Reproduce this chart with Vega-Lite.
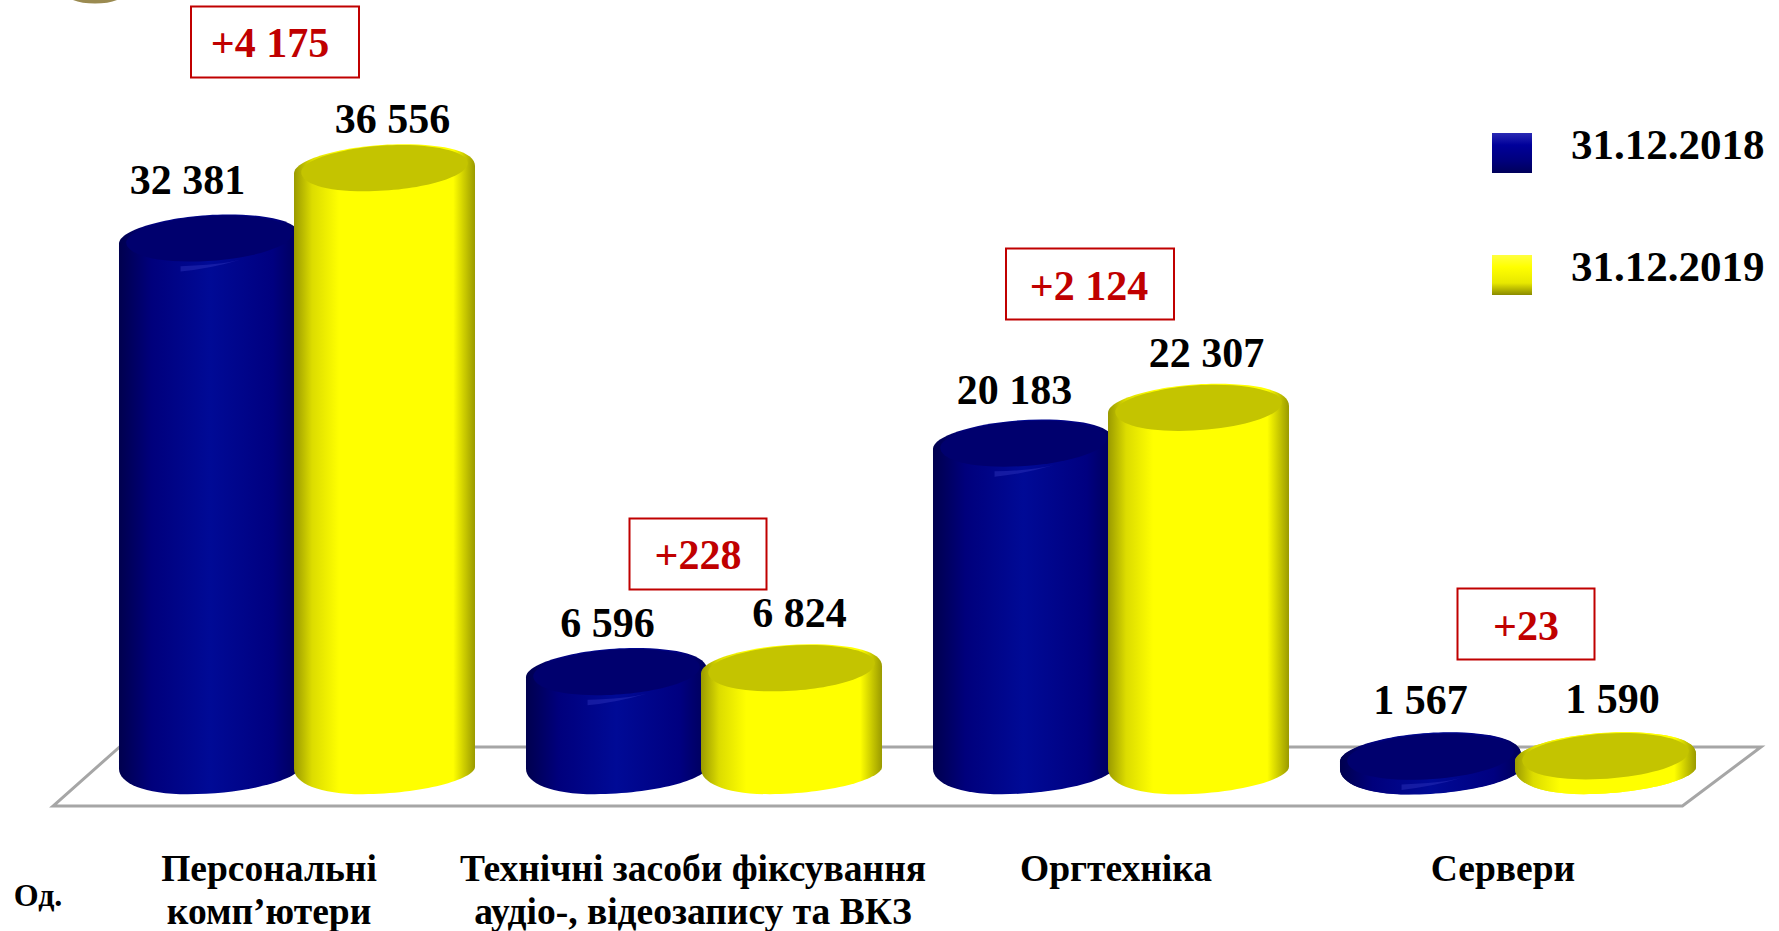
{
"$schema":"https://vega.github.io/schema/vega-lite/v6.json",
"width":1779,"height":931,"padding":0,"autosize":{"type":"none"},
"background":"white",
"config":{"view":{"stroke":null},"text":{"font":"Liberation Serif","fontWeight":"bold"}},
"datasets":{
"bars":[
{"category":"Персональні комп’ютери","series":"31.12.2018","value":32381,"label":"32 381"},
{"category":"Персональні комп’ютери","series":"31.12.2019","value":36556,"label":"36 556"},
{"category":"Технічні засоби фіксування аудіо-, відеозапису та ВКЗ","series":"31.12.2018","value":6596,"label":"6 596"},
{"category":"Технічні засоби фіксування аудіо-, відеозапису та ВКЗ","series":"31.12.2019","value":6824,"label":"6 824"},
{"category":"Оргтехніка","series":"31.12.2018","value":20183,"label":"20 183"},
{"category":"Оргтехніка","series":"31.12.2019","value":22307,"label":"22 307"},
{"category":"Сервери","series":"31.12.2018","value":1567,"label":"1 567"},
{"category":"Сервери","series":"31.12.2019","value":1590,"label":"1 590"}],
"cats":[
{"category":"Персональні комп’ютери","lines":"Персональні\nкомп’ютери","delta":"+4 175"},
{"category":"Технічні засоби фіксування аудіо-, відеозапису та ВКЗ","lines":"Технічні засоби фіксування\nаудіо-, відеозапису та ВКЗ","delta":"+228"},
{"category":"Оргтехніка","lines":"Оргтехніка","delta":"+2 124"},
{"category":"Сервери","lines":"Сервери","delta":"+23"}],
"legend":[{"category":"Сервери","series":"31.12.2018"},{"category":"Сервери","series":"31.12.2019"}]
},
"encoding":{
"x":{"field":"category","type":"nominal","axis":null,"scale":{"domain":["Персональні комп’ютери","Технічні засоби фіксування аудіо-, відеозапису та ВКЗ","Оргтехніка","Сервери"],"range":[93.5,1721.5],"paddingInner":0.14,"paddingOuter":0.07}}
},
"layer":[
{"data":{"name":"cats"},"transform":[{"filter":"datum.category==='Технічні засоби фіксування аудіо-, відеозапису та ВКЗ'"}],
 "mark":{"type":"point","xOffset":203,"filled":false,"stroke":"#a6a6a6","strokeWidth":3,"opacity":1,"size":11669056,"shape":"M-0.5,0.0173L-0.461,-0.0173L0.5,-0.0173L0.454,0.0173Z"},
 "encoding":{"y":{"datum":803,"type":"quantitative","axis":null,"scale":{"domain":[-8383,46968],"range":[931,0],"nice":false,"zero":false}}}},
{"data":{"name":"cats"},"transform":[{"filter":"datum.category==='Персональні комп’ютери'"}],
 "mark":{"type":"point","xOffset":-202,"yOffset":-9,"filled":true,"fill":"#9a8a50","opacity":1,"size":15876,"shape":"M-0.5,0A0.5,0.2,0,1,1,0.5,0A0.5,0.2,0,1,1,-0.5,0Z"},
 "encoding":{"y":{"datum":46968,"type":"quantitative"}}},

{"data":{"name":"bars"},"transform":[{"filter":"datum.series==='31.12.2018'"}],
 "encoding":{"xOffset":{"field":"series","type":"nominal","scale":{"domain":["31.12.2018","31.12.2019"],"paddingInner":0,"paddingOuter":0}}},
 "layer":[
 {"mark":{"type":"point","filled":true,"opacity":1,"size":131044,"shape":"M-0.5,0.03L-0.5,-0.01C-0.5,-0.09,-0.2,-0.171,0.1,-0.171C0.34,-0.171,0.5,-0.13,0.5,-0.05L0.5,0.02C0.5,0.09,0.2,0.171,-0.12,0.171C-0.36,0.171,-0.5,0.11,-0.5,0.03Z","fill":{"gradient":"linear","x1":0,"x2":1,"y1":0,"y2":0,"stops":[{"offset":0,"color":"#00004e"},{"offset":0.18,"color":"#00007c"},{"offset":0.5,"color":"#000a96"},{"offset":0.85,"color":"#000080"},{"offset":1,"color":"#00005a"}]}},
  "encoding":{"y":{"datum":1590,"type":"quantitative"}}},
 {"mark":{"type":"bar","width":181,"fill":{"gradient":"linear","x1":0,"x2":1,"y1":0,"y2":0,"stops":[{"offset":0,"color":"#00004e"},{"offset":0.18,"color":"#00007c"},{"offset":0.5,"color":"#000a96"},{"offset":0.85,"color":"#000080"},{"offset":1,"color":"#00005a"}]}},
  "encoding":{"y":{"field":"value","type":"quantitative","stack":null},"y2":{"datum":1590}}},
 {"mark":{"type":"point","filled":true,"opacity":1,"size":131044,"shape":"M-0.5,0.03L-0.5,-0.01C-0.5,-0.09,-0.2,-0.171,0.1,-0.171C0.34,-0.171,0.5,-0.13,0.5,-0.05L0.5,0.02C0.5,0.09,0.2,0.171,-0.12,0.171C-0.36,0.171,-0.5,0.11,-0.5,0.03Z","fill":{"gradient":"linear","x1":0,"x2":1,"y1":0,"y2":0,"stops":[{"offset":0,"color":"#00004e"},{"offset":0.18,"color":"#00007c"},{"offset":0.5,"color":"#000a96"},{"offset":0.85,"color":"#000080"},{"offset":1,"color":"#00005a"}]}},
  "encoding":{"y":{"field":"value","type":"quantitative"}}},
 {"mark":{"type":"point","filled":true,"opacity":1,"size":110900,"yOffset":-7,"shape":"M-0.5,0.024C-0.5,-0.056,-0.2,-0.139,0.1,-0.139C0.34,-0.139,0.5,-0.09,0.5,-0.032C0.5,0.057,0.2,0.139,-0.12,0.139C-0.36,0.139,-0.5,0.09,-0.5,0.024Z","fill":"#00006e"},
  "encoding":{"y":{"field":"value","type":"quantitative"}}},
 {"mark":{"type":"point","filled":true,"opacity":0.5,"size":131044,"shape":"M-0.16,0.145Q0,0.13,0.17,0.08Q0.05,0.11,-0.16,0.115Z","fill":"#2a30b8"},
  "encoding":{"y":{"field":"value","type":"quantitative"}}}
 ]},

{"data":{"name":"bars"},"transform":[{"filter":"datum.series==='31.12.2019'"}],
 "encoding":{"xOffset":{"field":"series","type":"nominal","scale":{"domain":["31.12.2018","31.12.2019"],"paddingInner":0,"paddingOuter":0}}},
 "layer":[
 {"mark":{"type":"point","filled":true,"opacity":1,"size":131044,"shape":"M-0.5,0.03L-0.5,-0.01C-0.5,-0.09,-0.2,-0.171,0.1,-0.171C0.34,-0.171,0.5,-0.13,0.5,-0.05L0.5,0.02C0.5,0.09,0.2,0.171,-0.12,0.171C-0.36,0.171,-0.5,0.11,-0.5,0.03Z","fill":{"gradient":"linear","x1":0,"x2":1,"y1":0,"y2":0,"stops":[{"offset":0,"color":"#9a9a00"},{"offset":0.1,"color":"#dcdc00"},{"offset":0.25,"color":"#ffff00"},{"offset":0.88,"color":"#ffff00"},{"offset":1,"color":"#9a9a00"}]}},
  "encoding":{"y":{"datum":1590,"type":"quantitative"}}},
 {"mark":{"type":"bar","width":181,"fill":{"gradient":"linear","x1":0,"x2":1,"y1":0,"y2":0,"stops":[{"offset":0,"color":"#9a9a00"},{"offset":0.1,"color":"#dcdc00"},{"offset":0.25,"color":"#ffff00"},{"offset":0.88,"color":"#ffff00"},{"offset":1,"color":"#9a9a00"}]}},
  "encoding":{"y":{"field":"value","type":"quantitative","stack":null},"y2":{"datum":1590}}},
 {"mark":{"type":"point","filled":true,"opacity":1,"size":131044,"shape":"M-0.5,0.03L-0.5,-0.01C-0.5,-0.09,-0.2,-0.171,0.1,-0.171C0.34,-0.171,0.5,-0.13,0.5,-0.05L0.5,0.02C0.5,0.09,0.2,0.171,-0.12,0.171C-0.36,0.171,-0.5,0.11,-0.5,0.03Z","fill":{"gradient":"linear","x1":0,"x2":1,"y1":0,"y2":0,"stops":[{"offset":0,"color":"#9a9a00"},{"offset":0.1,"color":"#dcdc00"},{"offset":0.25,"color":"#ffff00"},{"offset":0.88,"color":"#ffff00"},{"offset":1,"color":"#9a9a00"}]}},
  "encoding":{"y":{"field":"value","type":"quantitative"}}},
 {"mark":{"type":"point","filled":true,"opacity":1,"size":110900,"yOffset":-7,"shape":"M-0.5,0.024C-0.5,-0.056,-0.2,-0.139,0.1,-0.139C0.34,-0.139,0.5,-0.09,0.5,-0.032C0.5,0.057,0.2,0.139,-0.12,0.139C-0.36,0.139,-0.5,0.09,-0.5,0.024Z","fill":"#c4c400"},
  "encoding":{"y":{"field":"value","type":"quantitative"}}}
 ]},

{"data":{"name":"bars"},"transform":[{"filter":"datum.value===6596"}],
 "mark":{"type":"text","fontSize":42,"dx":-9,"dy":-55,"color":"black"},
 "encoding":{"xOffset":{"field":"series","type":"nominal"},"y":{"field":"value","type":"quantitative"},"text":{"field":"label"}}},
{"data":{"name":"bars"},"transform":[{"filter":"datum.value===20183"}],
 "mark":{"type":"text","fontSize":42,"dx":-9,"dy":-60,"color":"black"},
 "encoding":{"xOffset":{"field":"series","type":"nominal"},"y":{"field":"value","type":"quantitative"},"text":{"field":"label"}}},
{"data":{"name":"bars"},"transform":[{"filter":"datum.value===1567"}],
 "mark":{"type":"text","fontSize":42,"dx":-10,"dy":-63,"color":"black"},
 "encoding":{"xOffset":{"field":"series","type":"nominal"},"y":{"field":"value","type":"quantitative"},"text":{"field":"label"}}},
{"data":{"name":"bars"},"transform":[{"filter":"datum.value===32381"}],
 "mark":{"type":"text","fontSize":42,"dx":-22,"dy":-64,"color":"black"},
 "encoding":{"xOffset":{"field":"series","type":"nominal"},"y":{"field":"value","type":"quantitative"},"text":{"field":"label"}}},
{"data":{"name":"bars"},"transform":[{"filter":"datum.value===36556"}],
 "mark":{"type":"text","fontSize":42,"dx":8,"dy":-55,"color":"black"},
 "encoding":{"xOffset":{"field":"series","type":"nominal"},"y":{"field":"value","type":"quantitative"},"text":{"field":"label"}}},
{"data":{"name":"bars"},"transform":[{"filter":"datum.value===6824 || datum.value===22307"}],
 "mark":{"type":"text","fontSize":42,"dx":8,"dy":-61,"color":"black"},
 "encoding":{"xOffset":{"field":"series","type":"nominal"},"y":{"field":"value","type":"quantitative"},"text":{"field":"label"}}},
{"data":{"name":"bars"},"transform":[{"filter":"datum.value===1590"}],
 "mark":{"type":"text","fontSize":42,"dx":7,"dy":-63,"color":"black"},
 "encoding":{"xOffset":{"field":"series","type":"nominal"},"y":{"field":"value","type":"quantitative"},"text":{"field":"label"}}},

{"data":{"name":"cats"},"transform":[{"filter":"datum.delta==='+4 175'"}],"layer":[
 {"mark":{"type":"point","xOffset":-22,"filled":false,"stroke":"#c00000","strokeWidth":2,"opacity":1,"size":112896,"shape":"M-0.5,-0.211H0.5V0.211H-0.5Z"},"encoding":{"y":{"datum":44470,"type":"quantitative"}}},
 {"mark":{"type":"text","fontSize":42,"dx":-27,"dy":2,"color":"#c00000"},"encoding":{"y":{"datum":44470,"type":"quantitative"},"text":{"field":"delta"}}}]},
{"data":{"name":"cats"},"transform":[{"filter":"datum.delta==='+228'"}],"layer":[
 {"mark":{"type":"point","xOffset":-6,"filled":false,"stroke":"#c00000","strokeWidth":2,"opacity":1,"size":75076,"shape":"M-0.5,-0.259H0.5V0.259H-0.5Z"},"encoding":{"y":{"datum":14031,"type":"quantitative"}}},
 {"mark":{"type":"text","fontSize":42,"dx":-6,"dy":2,"color":"#c00000"},"encoding":{"y":{"datum":14031,"type":"quantitative"},"text":{"field":"delta"}}}]},
{"data":{"name":"cats"},"transform":[{"filter":"datum.delta==='+2 124'"}],"layer":[
 {"mark":{"type":"point","xOffset":-21,"filled":false,"stroke":"#c00000","strokeWidth":2,"opacity":1,"size":112896,"shape":"M-0.5,-0.211H0.5V0.211H-0.5Z"},"encoding":{"y":{"datum":30083,"type":"quantitative"}}},
 {"mark":{"type":"text","fontSize":42,"dx":-22,"dy":3,"color":"#c00000"},"encoding":{"y":{"datum":30083,"type":"quantitative"},"text":{"field":"delta"}}}]},
{"data":{"name":"cats"},"transform":[{"filter":"datum.delta==='+23'"}],"layer":[
 {"mark":{"type":"point","xOffset":8,"filled":false,"stroke":"#c00000","strokeWidth":2,"opacity":1,"size":75076,"shape":"M-0.5,-0.259H0.5V0.259H-0.5Z"},"encoding":{"y":{"datum":9869,"type":"quantitative"}}},
 {"mark":{"type":"text","fontSize":42,"dx":8,"dy":3,"color":"#c00000"},"encoding":{"y":{"datum":9869,"type":"quantitative"},"text":{"field":"delta"}}}]},

{"data":{"name":"cats"},"transform":[{"filter":"datum.delta==='+4 175'"},{"calculate":"split(datum.lines,'\\n')","as":"t"}],
 "mark":{"type":"text","fontSize":37.5,"dx":-28,"baseline":"alphabetic","lineHeight":43,"color":"black"},
 "encoding":{"y":{"datum":-5400,"type":"quantitative"},"text":{"field":"t"}}},
{"data":{"name":"cats"},"transform":[{"filter":"datum.delta==='+228'"},{"calculate":"split(datum.lines,'\\n')","as":"t"}],
 "mark":{"type":"text","fontSize":37.5,"dx":-11,"baseline":"alphabetic","lineHeight":43,"color":"black"},
 "encoding":{"y":{"datum":-5400,"type":"quantitative"},"text":{"field":"t"}}},
{"data":{"name":"cats"},"transform":[{"filter":"datum.delta==='+2 124'"}],
 "mark":{"type":"text","fontSize":37.5,"dx":5,"baseline":"alphabetic","color":"black"},
 "encoding":{"y":{"datum":-5400,"type":"quantitative"},"text":{"field":"lines"}}},
{"data":{"name":"cats"},"transform":[{"filter":"datum.delta==='+23'"}],
 "mark":{"type":"text","fontSize":37.5,"dx":-15,"baseline":"alphabetic","color":"black"},
 "encoding":{"y":{"datum":-5400,"type":"quantitative"},"text":{"field":"lines"}}},
{"data":{"name":"cats"},"transform":[{"filter":"datum.delta==='+4 175'"}],
 "mark":{"type":"text","fontSize":32,"dx":-259,"baseline":"alphabetic","color":"black","text":"Од."},
 "encoding":{"y":{"datum":-6900,"type":"quantitative"}}},

{"data":{"name":"legend"},"transform":[{"filter":"datum.series==='31.12.2018'"}],"layer":[
 {"mark":{"type":"point","xOffset":-6,"filled":true,"opacity":1,"size":6400,"shape":"M-0.5,-0.5H0.5V0.5H-0.5Z","fill":{"gradient":"linear","x1":0,"x2":0,"y1":0,"y2":1,"stops":[{"offset":0,"color":"#2a2ab4"},{"offset":0.3,"color":"#00009a"},{"offset":0.7,"color":"#00007c"},{"offset":1,"color":"#00005a"}]}},"encoding":{"y":{"datum":37872,"type":"quantitative"}}},
 {"mark":{"type":"text","fontSize":43,"align":"left","dx":53,"baseline":"alphabetic","color":"black"},"encoding":{"y":{"datum":37515,"type":"quantitative"},"text":{"field":"series"}}}]},
{"data":{"name":"legend"},"transform":[{"filter":"datum.series==='31.12.2019'"}],"layer":[
 {"mark":{"type":"point","xOffset":-6,"filled":true,"opacity":1,"size":6400,"shape":"M-0.5,-0.5H0.5V0.5H-0.5Z","fill":{"gradient":"linear","x1":0,"x2":0,"y1":0,"y2":1,"stops":[{"offset":0,"color":"#ffff40"},{"offset":0.3,"color":"#ffff00"},{"offset":0.7,"color":"#e8e800"},{"offset":1,"color":"#8a8a00"}]}},"encoding":{"y":{"datum":30618,"type":"quantitative"}}},
 {"mark":{"type":"text","fontSize":43,"align":"left","dx":53,"baseline":"alphabetic","color":"black"},"encoding":{"y":{"datum":30262,"type":"quantitative"},"text":{"field":"series"}}}]}
]
}
